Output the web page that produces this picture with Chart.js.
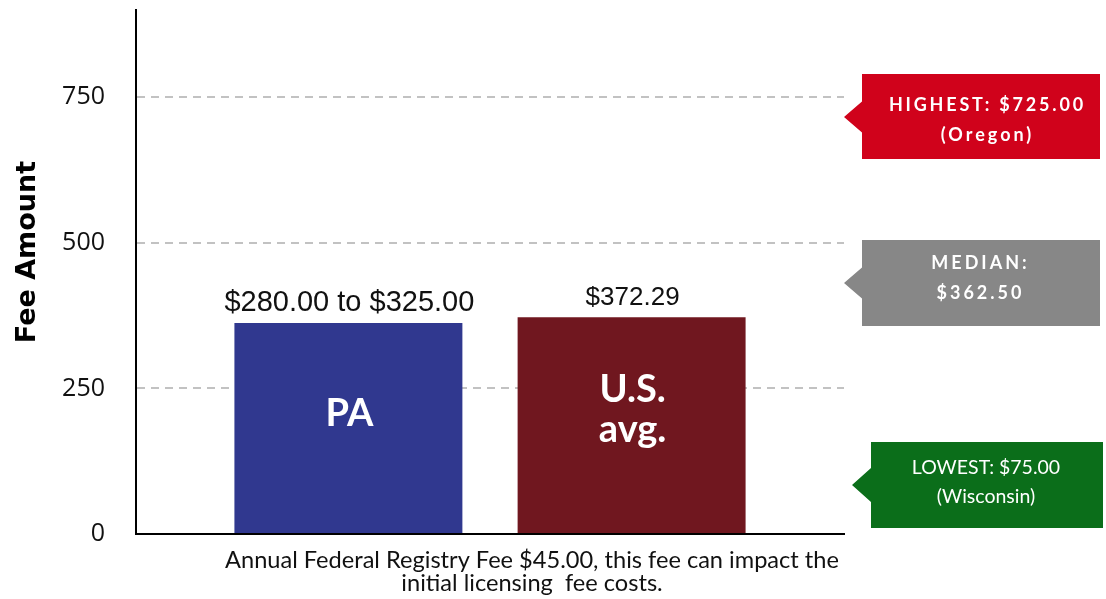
<!DOCTYPE html>
<html>
<head>
<meta charset="utf-8">
<title>Fee Amount</title>
<script src="https://cdn.jsdelivr.net/npm/chart.js"></script>
<style>
    body { margin: 0; background: #fff; }
    #chart-container { position: relative; width: 1106px; height: 599px; }
</style>
</head>
<body>
<div id="chart-container">
    <canvas id="feeChart"></canvas>
</div>

<script>
    // values
    const categories = [['Annual Federal Registry Fee $45.00, this fee can impact the', 'initial licensing  fee costs.']];
    const seriesNames = ['PA', 'U.S. avg.'];
    const barValues = [362.5, 372.29];
    const barTopLabels = ['$280.00 to $325.00', '$372.29'];
    const barInnerLabels = [['PA'], ['U.S.', 'avg.']];
    const barColors = ['#30388f', '#70171f'];
    const yTicks = [0, 250, 500, 750];
    const yMax = 900;
    const yTitle = 'Fee Amount';
    const calloutLines = [
        ['HIGHEST: $725.00', '(Oregon)'],
        ['MEDIAN:', '$362.50'],
        ['LOWEST: $75.00', '(Wisconsin)']
    ];
    const calloutColors = ['#d0021b', '#878787', '#0b6e1a'];

    // text drawn on and above the bars
    const barText = {
        id: 'barText',
        afterDatasetsDraw(chart) {
            const ctx = chart.ctx;
            const topSizes = [29, 26];
            ctx.save();
            ctx.textAlign = 'center';
            chart.data.datasets.forEach((ds, i) => {
                const bar = chart.getDatasetMeta(i).data[0];
                ctx.fillStyle = '#111';
                ctx.font = topSizes[i] + 'px "Liberation Sans", Arial, sans-serif';
                ctx.textBaseline = 'alphabetic';
                ctx.fillText(barTopLabels[i], bar.x + 1, bar.y - 12);

                ctx.fillStyle = '#fff';
                ctx.font = 'bold 38px Lato, sans-serif';
                ctx.textBaseline = 'middle';
                const lines = barInnerLabels[i];
                const mid = bar.y + (bar.base - bar.y) * 0.43;
                lines.forEach((t, k) => {
                    ctx.fillText(t, bar.x + 1, mid + (k - (lines.length - 1) / 2) * 40);
                });
            });
            ctx.restore();
        }
    };

    // centred text with letter spacing (canvas centring ignores the spacing)
    function spacedText(ctx, text, cx, y, spacing) {
        ctx.letterSpacing = '0px';
        const w = ctx.measureText(text).width + spacing * (text.length - 1);
        ctx.letterSpacing = spacing + 'px';
        ctx.textAlign = 'left';
        ctx.fillText(text, cx - w / 2, y);
        ctx.letterSpacing = '0px';
    }

    // y title and the three callouts on the right
    const extras = {
        id: 'extras',
        afterDraw(chart) {
            const ctx = chart.ctx;
            const area = chart.chartArea;
            ctx.save();

            ctx.translate(35, 252);
            ctx.rotate(-Math.PI / 2);
            ctx.fillStyle = '#000';
            ctx.font = 'bold 27px "DejaVu Sans", sans-serif';
            ctx.textAlign = 'center';
            ctx.textBaseline = 'alphabetic';
            ctx.fillText(yTitle, 0, 0);
            ctx.setTransform(1, 0, 0, 1, 0, 0);

            const boxes = [
                { left: area.right + 18, top: 74, w: 238, h: 85, tipX: area.right, tipY: 117, half: 15.5,
                  cx: 986, lineY: [105, 135], font: 'bold 18px Lato, sans-serif', spacing: [2.8, 3] },
                { left: area.right + 18, top: 240, w: 238, h: 86, tipX: area.right, tipY: 283, half: 15.5,
                  cx: 979, lineY: [263, 293], font: 'bold 18px Lato, sans-serif', spacing: [3, 3] },
                { left: area.right + 27, top: 442, w: 232, h: 86, tipX: area.right + 8, tipY: 485, half: 17,
                  cx: 986, lineY: [468, 497], font: '19.5px Lato, sans-serif', spacing: [0, 0] }
            ];
            boxes.forEach((b, i) => {
                ctx.fillStyle = calloutColors[i];
                ctx.beginPath();
                ctx.moveTo(b.left, b.top);
                ctx.lineTo(b.left + b.w, b.top);
                ctx.lineTo(b.left + b.w, b.top + b.h);
                ctx.lineTo(b.left, b.top + b.h);
                ctx.lineTo(b.left, b.tipY + b.half);
                ctx.lineTo(b.tipX, b.tipY);
                ctx.lineTo(b.left, b.tipY - b.half);
                ctx.closePath();
                ctx.fill();

                ctx.fillStyle = '#fff';
                ctx.textBaseline = 'middle';
                ctx.font = b.font;
                calloutLines[i].forEach((t, k) => spacedText(ctx, t, b.cx, b.lineY[k], b.spacing[k]));
            });
            ctx.restore();
        }
    };

    const ctx = document.getElementById('feeChart').getContext('2d');
    const feeChart = new Chart(ctx, {
        type: 'bar',
        data: {
            labels: categories,
            datasets: seriesNames.map((name, i) => ({
                label: name,
                data: [barValues[i]],
                backgroundColor: barColors[i],
                borderWidth: 0,
                categoryPercentage: 0.8,
                barPercentage: 0.805
            }))
        },
        options: {
            responsive: true,
            maintainAspectRatio: false,
            animation: false,
            layout: { padding: { top: 10, right: 262, left: 0, bottom: 0 } },
            plugins: {
                legend: { display: false },
                tooltip: { enabled: false }
            },
            scales: {
                x: {
                    afterFit: scale => { scale.height = 65; },
                    grid: { display: false, drawTicks: false },
                    border: { display: true, color: '#000', width: 2 },
                    ticks: {
                        padding: 15,
                        labelOffset: 42,
                        maxRotation: 0,
                        autoSkip: false,
                        color: '#111',
                        font: { family: 'Lato', size: 23.6, lineHeight: 0.96 }
                    }
                },
                y: {
                    min: 0,
                    max: yMax,
                    afterBuildTicks: axis => { axis.ticks = yTicks.map(v => ({ value: v })); },
                    afterFit: scale => {
                        scale.width = 136;
                        scale.paddingTop = 0;
                        scale.paddingBottom = 0;
                    },
                    grid: {
                        drawTicks: false,
                        lineWidth: 2,
                        color: c => (c.tick && c.tick.value === 0) ? 'rgba(0,0,0,0)' : '#c2c2c2'
                    },
                    border: { display: true, color: '#000', width: 2, dash: [8, 6] },
                    ticks: {
                        padding: 31,
                        color: '#111',
                        font: { family: '"Open Sans"', size: 25 }
                    }
                }
            }
        },
        plugins: [barText, extras]
    });
</script>
</body>
</html>
